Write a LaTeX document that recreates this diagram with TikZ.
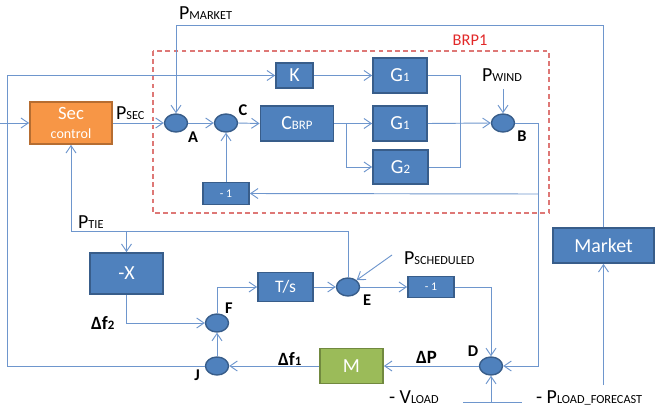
\documentclass[tikz,border=0pt]{standalone}
\usepackage{fontspec}
\setmainfont{Carlito}
\usetikzlibrary{arrows.meta,shapes.geometric}
\definecolor{boxblue}{RGB}{79,129,189}
\definecolor{boxedge}{RGB}{56,93,138}
\definecolor{wirec}{RGB}{110,150,205}
\definecolor{secfill}{RGB}{247,150,70}
\definecolor{secedge}{RGB}{182,109,49}
\definecolor{mfill}{RGB}{155,187,89}
\definecolor{medge}{RGB}{113,137,63}
\definecolor{brpline}{RGB}{222,120,118}
\definecolor{brptext}{RGB}{225,40,40}
\newcommand{\fs}[1]{\fontsize{#1}{#1}\selectfont}
\newcommand{\sig}[2]{#1{\fs{10.5}#2}}

\begin{document}
\begin{tikzpicture}[x=0.3mm, y=-0.3mm, every node/.style={font=\fs{17}},
  >={Straight Barb[length=2.2mm,width=3mm]},
  blk/.style={draw=boxedge, fill=boxblue, line width=1.5pt, text=white, inner sep=0pt},
  sum/.style={ellipse, draw=boxedge, fill=boxblue, line width=1.2pt, minimum width=6.9mm, minimum height=5.4mm, inner sep=0pt},
  wire/.style={draw=wirec, line width=0.8pt},
  tag/.style={font=\fs{14}\bfseries},
  delta/.style={anchor=west, font=\fs{16}\bfseries}]
  \useasboundingbox (0,0) rectangle (670,409);

  % BRP1 area
  \draw[draw=brpline, dash pattern=on 4pt off 3pt, line width=1pt] (153,51) rectangle (549,213);
  \node[text=brptext, font=\fs{14}] (brp) at (470,40) {BRP1};

  % blocks
  \node[blk, fill=secfill, draw=secedge, minimum width=24.6mm, minimum height=12.6mm, align=center] (sec) at (71,123) {\fs{16}Sec\\[-1pt]{\fs{12}control}};
  \node[blk, minimum width=11.1mm, minimum height=7.5mm] (K) at (294.5,75.5) {K};
  \node[blk, minimum width=16.2mm, minimum height=10.5mm] (G1a) at (400,75.5) {G{\fs{11}1}};
  \node[blk, minimum width=21.9mm, minimum height=10.5mm] (CBRP) at (297,123.5) {C{\fs{11}BRP}};
  \node[blk, minimum width=16.2mm, minimum height=10.5mm] (G1b) at (400,123.5) {G{\fs{11}1}};
  \node[blk, minimum width=16.5mm, minimum height=10.2mm] (G2) at (400.5,167) {G{\fs{11}2}};
  \node[blk, minimum width=13.8mm, minimum height=6.6mm, font=\fs{10}] (m1) at (226,193.5) {- 1};
  \node[blk, minimum width=21.9mm, minimum height=12.3mm] (negx) at (126.5,273.5) {-X};
  \node[blk, minimum width=16.5mm, minimum height=8.7mm, font=\fs{15}] (Ts) at (285.5,287) {T/s};
  \node[blk, minimum width=13.8mm, minimum height=6.3mm, font=\fs{10}] (m2) at (431,287) {- 1};
  \node[blk, fill=mfill, draw=medge, minimum width=18.9mm, minimum height=10.5mm] (M) at (351.5,366) {M};
  \node[blk, minimum width=30.3mm, minimum height=10.5mm] (market) at (603.5,245.5) {Market};

  % summing points
  \node[sum] (A) at (176,123) {};
  \node[sum] (C) at (226,123) {};
  \node[sum] (B) at (503,123) {};
  \node[sum] (E) at (348,287) {};
  \node[sum] (F) at (217,323) {};
  \node[sum] (J) at (217,366) {};
  \node[sum] (D) at (491,366) {};

  % labels
  \node[anchor=west] (pmkt) at (175,13) {\sig{P}{MARKET}};
  \node[anchor=west] (psec) at (112,113) {\sig{P}{SEC}};
  \node[anchor=west] (pwind) at (478,75) {\sig{P}{WIND}};
  \node[anchor=west] (ptie) at (74,222) {\sig{P}{TIE}};
  \node[anchor=west] (psch) at (400,258) {\sig{P}{SCHEDULED}};
  \node[anchor=base west] (vload) at (385,403) {- \sig{V}{LOAD}};
  \node[anchor=base west] (pload) at (532,403) {- \sig{P}{LOAD\_FORECAST}};
  \node[delta] (df2) at (87,323) {Δf{\fs{11}2}};
  \node[delta] (df1) at (274,359) {Δf{\fs{11}1}};
  \node[delta] (dp) at (412,357) {ΔP};
  \node[tag] (la) at (193,137) {A};
  \node[tag] (lc) at (243,110) {C};
  \node[tag] (lb) at (522,136) {B};
  \node[tag] (le) at (367,300) {E};
  \node[tag] (lf) at (229,308) {F};
  \node[tag] (lj) at (197,375) {J};
  \node[tag] (ld) at (473,351) {D};

  % outer loop on the left
  \coordinate (lt) at (7,75.5);
  \coordinate (lin) at (0,123);
  \draw[wire, ->] (J.west) -| (lt) -- (K.west);
  \draw[wire, ->] (lin) -- (sec.west);
  \draw[wire, ->] (sec.east) -- (A.west);

  % market feed
  \coordinate (mtop) at (603.5,25);
  \coordinate (mbot) at (603.5,385);
  \draw[wire, ->] (market.north) -- (mtop) -| (A.north);
  \draw[wire, ->] (mbot) -- (market.south);

  % inside BRP1
  \coordinate (split) at (346,123.5);
  \coordinate (gsum) at (460,167);
  \coordinate (pw) at (503,89);
  \coordinate (bout) at (538,123);
  \coordinate (fb) at (538,194);
  \draw[wire, ->] (A.east) -- (C.west);
  \draw[wire, ->] (C.east) -- (CBRP.west);
  \draw[wire, ->] (K.east) -- (G1a.west);
  \draw[wire, ->] (CBRP.east) -- (G1b.west);
  \draw[wire, ->] (split) |- (G2.west);
  \draw[wire] (G1a.east) -| (gsum) -- (G2.east);
  \draw[wire, ->] (G1b.east) -- (B.west);
  \draw[wire, ->] (pw) -- (B.north);
  \draw[wire, ->] (B.east) -- (bout) |- (D.east);
  \draw[wire, ->] (fb) -- (m1.east);
  \draw[wire, ->] (m1.north) -- (C.south);

  % tie line and frequency loop
  \coordinate (tie) at (348,231);
  \coordinate (tiel) at (71,231);
  \coordinate (tiex) at (126.5,231);
  \coordinate (ps) at (392,255);
  \draw[wire, ->] (E.north) -- (tie) -- (tiel) -- (sec.south);
  \draw[wire, ->] (tiex) -- (negx.north);
  \draw[wire, ->] (negx.south) |- (F.west);
  \draw[wire, ->] (F.north) |- (Ts.west);
  \draw[wire, ->] (Ts.east) -- (E.west);
  \draw[wire, ->] (ps) -- (E.north east);
  \draw[wire, ->] (E.east) -- (m2.west);
  \draw[wire, ->] (m2.east) -| (D.north);
  \draw[wire, ->] (D.west) -- (M.east);
  \draw[wire, ->] (M.west) -- (J.east);
  \draw[wire, ->] (J.north) -- (F.south);

  % load inputs
  \coordinate (vl) at (463,402);
  \coordinate (vr) at (522,402);
  \draw[wire] (vl) -- (vr);
  \draw[wire, ->] (D.south |- vl) -- (D.south);
\end{tikzpicture}
\end{document}
